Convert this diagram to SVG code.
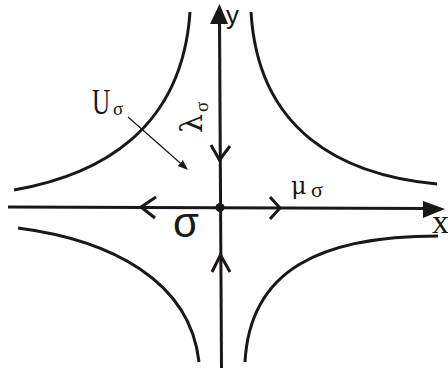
<svg xmlns="http://www.w3.org/2000/svg" width="448" height="372" viewBox="0 0 448 372">
<style>
.c{fill:none;stroke:#1a1716;stroke-width:3;stroke-linecap:butt}
.ch{fill:none;stroke:#1a1716;stroke-width:3;stroke-linejoin:miter}
.serif{font-family:"Liberation Serif","Times New Roman",serif;fill:#1a1716}
.dserif{font-family:"DejaVu Serif","Liberation Serif",serif;fill:#1a1716}
.sans{font-family:"Liberation Sans",Arial,sans-serif;fill:#1a1716}
</style>
<defs>
<marker id="ah" viewBox="0 0 10 10" refX="9" refY="5" markerWidth="10" markerHeight="10" markerUnits="userSpaceOnUse" orient="auto">
<path d="M0,1 L10,5 L0,9 Z" fill="#1a1716"/>
</marker>
</defs>
<rect width="448" height="372" fill="#fff"/>
<g id="curves">
<path class="c" d="M190,12 C182,130 100,175 14,190"/>
<path class="c" d="M251,12 C258,130 340,175 437,184"/>
<path class="c" d="M18,228 C110,240 190,280 199,362"/>
<path class="c" d="M245,362 C250,270 320,236 438,236"/>
</g>
<g id="connectors">
<line class="c" x1="221.5" y1="368" x2="219.5" y2="20"/>
<path d="M219.5,4 L228,24 L210,24 Z" fill="#1a1716"/>
<line class="c" x1="8" y1="207" x2="426" y2="208.5"/>
<path d="M445,209 L423,201 L423,218 Z" fill="#1a1716"/>
<polyline class="ch" points="211,145 219.5,160 230,146"/>
<polyline class="ch" points="212,272 220.5,255 230,272"/>
<polyline class="ch" points="156,197 141,207 155,218"/>
<polyline class="ch" points="270,197 280,208 270,219"/>
<line x1="128" y1="117" x2="187" y2="169" stroke="#1a1716" stroke-width="1.2" marker-end="url(#ah)"/>
</g>
<g id="origin"><circle cx="220" cy="207.5" r="4.5" fill="#1a1716"/></g>
<g id="labels">
<text class="sans" x="226" y="24" font-size="26">y</text>
<text class="serif" x="432" y="233" font-size="34">x</text>
<text class="serif" transform="translate(92,114) scale(0.72,1)" font-size="35">U</text>
<text class="serif" x="113" y="115" font-size="19">σ</text>
<text class="dserif" transform="translate(202,133) rotate(-90)" font-size="30">λ</text>
<text class="serif" transform="translate(208,112) rotate(-90)" font-size="19">σ</text>
<text class="dserif" x="291" y="194" font-size="24">μ</text>
<text class="serif" x="311" y="197" font-size="22">σ</text>
<text class="sans" x="173" y="237" font-size="42">σ</text>
</g>
</svg>
